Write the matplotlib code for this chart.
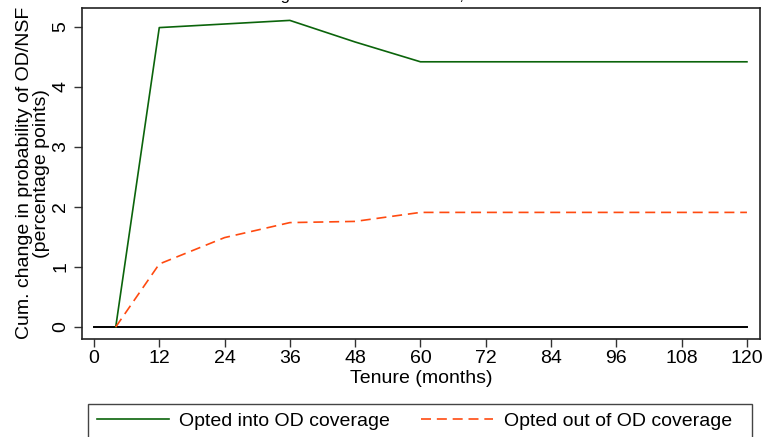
import matplotlib.pyplot as plt
from matplotlib.patches import Rectangle

plt.rcParams['font.family'] = ['Liberation Sans', 'DejaVu Sans']

# データ
tenure = [4, 12, 24, 36, 48, 60, 72, 84, 96, 108, 120]
opted_in = [0, 4.99, 5.05, 5.11, 4.75, 4.42, 4.42, 4.42, 4.42, 4.42, 4.42]
opted_out = [0, 1.05, 1.49, 1.74, 1.76, 1.91, 1.91, 1.91, 1.91, 1.91, 1.91]
zero_x = [0, 120]
zero_y = [0, 0]
x_ticks = list(range(0, 121, 12))
y_ticks = [0, 1, 2, 3, 4, 5]
title = 'Cumulative change in OD/NSF incidence, all customers'

fs = 14

fig = plt.figure(figsize=(7.66, 4.37), dpi=100)
ax = fig.add_axes([82/766, 1 - 339/437, (760-82)/766, (339-7.5)/437])

ax.plot(zero_x, zero_y, color='black', lw=1.4)
l1, = ax.plot(tenure, opted_in, color='#0b640b', lw=1.2)
l2, = ax.plot(tenure, opted_out, color='#ff4a10', lw=1.2, dashes=(6, 3.5))

ax.set_xlim(-2.2, 122.4)
ax.set_ylim(-0.2, 5.325)
ax.set_xticks(x_ticks)
ax.set_yticks(y_ticks)
ax.tick_params(direction='out', length=6, width=1, labelsize=fs, color='#333333', pad=2)
ax.tick_params(axis='y', labelrotation=90, pad=3)
for lab in ax.get_yticklabels():
    lab.set_va('center')
for s in ax.spines.values():
    s.set_color('#222222')
    s.set_linewidth(1.2)

ax.set_xlabel('Tenure (months)', fontsize=fs, labelpad=2)
ax.set_ylabel('Cum. change in probability of OD/NSF\n(percentage points)',
              fontsize=fs, labelpad=2, linespacing=0.95)

# 凡例
fig.patches.append(Rectangle((88/766, -0.05), (752-88)/766, 0.05 + (437-404)/437,
                             transform=fig.transFigure, fill=False,
                             edgecolor='#444444', lw=1.0))
fig.legend([l1, l2], ['Opted into OD coverage', 'Opted out of OD coverage'],
           loc='center left', bbox_to_anchor=(97/766, 1 - 421/437), ncol=2,
           frameon=False, fontsize=fs, handlelength=3.7, handletextpad=0.54,
           columnspacing=1.6, borderpad=0, borderaxespad=0)

# タイトル（上端で切れている）
fig.text(0.472, 1.001, title, fontsize=12, ha='center', va='baseline')

plt.savefig('out.png', dpi=100)
